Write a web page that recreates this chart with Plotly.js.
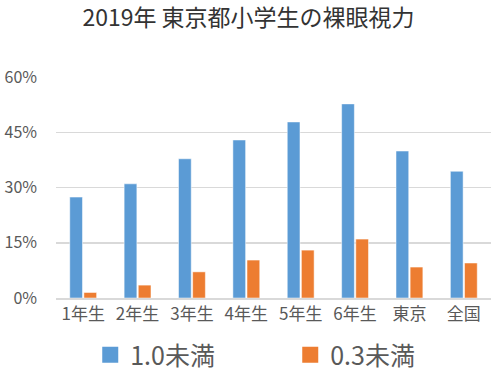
<!DOCTYPE html>
<html>
<head>
<meta charset="utf-8">
<script src="https://cdn.plot.ly/plotly-3.0.1.min.js"></script>
<style>html,body{margin:0;padding:0;background:#fff;}#chart{width:497px;height:373px;}</style>
</head>
<body>
<div id="chart"></div>
<script>
var categories = ["1年生", "2年生", "3年生", "4年生", "5年生", "6年生", "東京", "全国"];
var under10 = [0.274, 0.310, 0.378, 0.429, 0.478, 0.527, 0.399, 0.344];
var under03 = [0.015, 0.035, 0.071, 0.103, 0.130, 0.160, 0.084, 0.095];
var seriesNames = ["1.0未満", "0.3未満"];
var seriesColors = ["#5B9BD5", "#ED7D31"];

var FONT = "Noto Sans CJK JP, Noto Sans, sans-serif";
var traces = [
  {type: "bar", x: categories, y: under10, name: seriesNames[0], showlegend: false,
   marker: {color: seriesColors[0], line: {color: "#ffffff", width: 0.5}}},
  {type: "bar", x: categories, y: under03, name: seriesNames[1], showlegend: false,
   marker: {color: seriesColors[1], line: {color: "#ffffff", width: 0.5}}},
  {type: "scatter", mode: "markers", x: [categories[0]], y: [null], name: seriesNames[0], hoverinfo: "skip",
   marker: {symbol: "square", size: 17, color: seriesColors[0]}},
  {type: "scatter", mode: "markers", x: [categories[0]], y: [null], name: seriesNames[1], hoverinfo: "skip",
   marker: {symbol: "square", size: 17, color: seriesColors[1]}}
];
var layout = {
  width: 497, height: 373,
  margin: {l: 56, r: 6, t: 77, b: 75},
  paper_bgcolor: "#ffffff", plot_bgcolor: "#ffffff",
  font: {family: FONT, color: "#595959"},
  title: {text: "2019年 東京都小学生の裸眼視力", font: {family: FONT, size: 23, color: "#333333"},
          x: 0.5, xanchor: "center", xref: "container", y: 0.953, yanchor: "middle", yref: "container"},
  barmode: "group", bargap: 0.48, bargroupgap: 0.1,
  xaxis: {type: "category", range: [-0.5, 7.5], tickfont: {size: 17, color: "#595959"},
          showline: true, linecolor: "#d9d9d9", linewidth: 1.5, ticks: "", showgrid: false},
  yaxis: {range: [0, 0.6], dtick: 0.15, tickformat: ".0%", tickfont: {size: 16, color: "#595959"},
          showgrid: true, gridcolor: "#d9d9d9", gridwidth: 1.5, zeroline: false, showline: false,
          ticks: "", ticklabelstandoff: 18},
  showlegend: true,
  legend: {orientation: "h", x: 0.584, xanchor: "center", xref: "container", y: 0.048, yanchor: "middle", yref: "container",
           font: {size: 25, color: "#595959", family: FONT}, entrywidth: 155, itemwidth: 30}
};
Plotly.newPlot("chart", traces, layout, {displayModeBar: false, staticPlot: true});
</script>
</body>
</html>
